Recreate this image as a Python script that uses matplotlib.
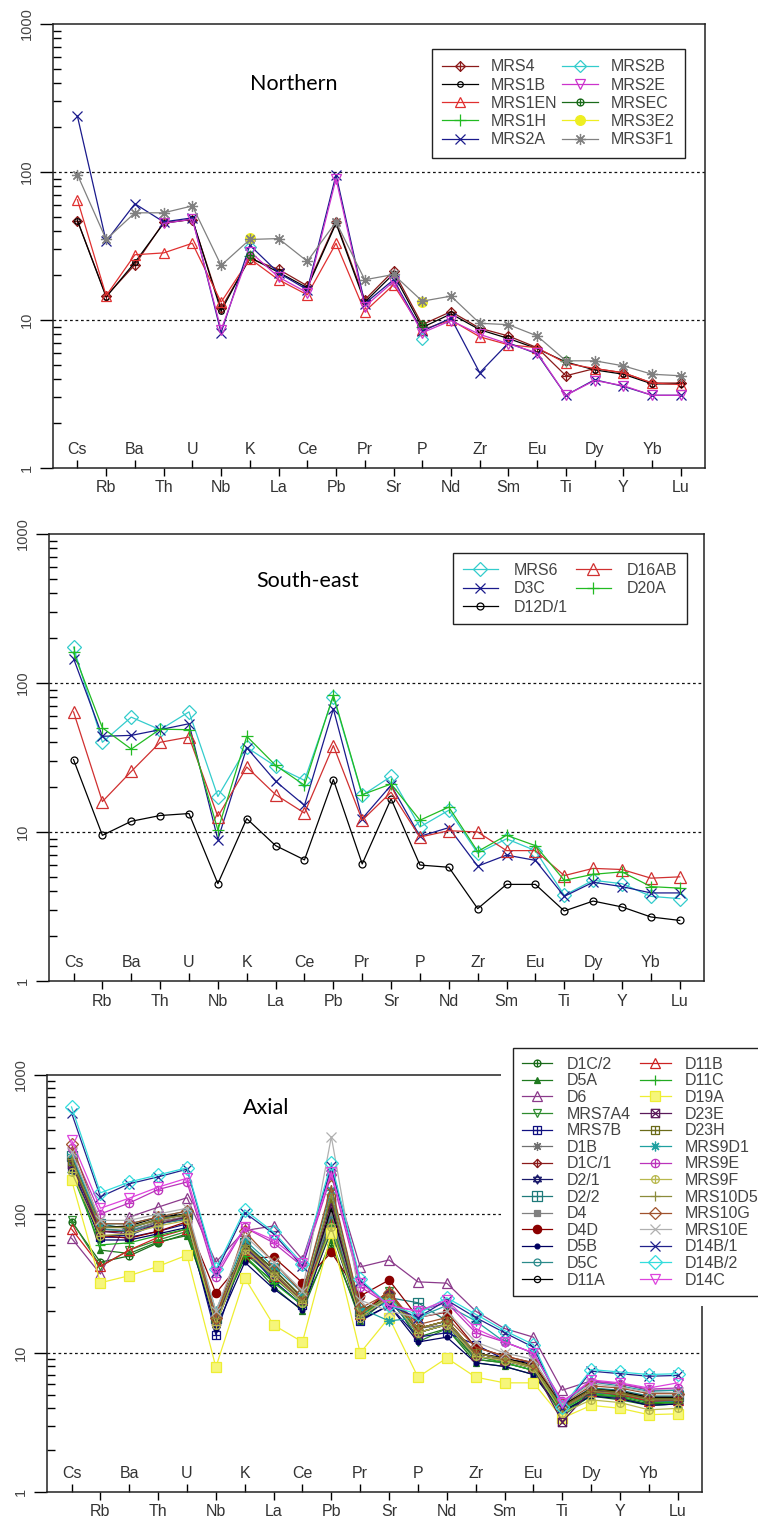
import numpy as np
import matplotlib.pyplot as plt
from matplotlib.path import Path
from matplotlib.patches import Rectangle
from matplotlib.ticker import FixedLocator, LogLocator, NullFormatter

plt.rcParams['font.family'] = ['Liberation Sans', 'DejaVu Sans']

nan = np.nan
elements = ["Cs", "Rb", "Ba", "Th", "U", "Nb", "K", "La", "Ce", "Pb", "Pr",
            "Sr", "P", "Nd", "Zr", "Sm", "Eu", "Ti", "Dy", "Y", "Yb", "Lu"]

# ---- Northern samples
north_names = ["MRS4", "MRS1B", "MRS1EN", "MRS1H", "MRS2A",
               "MRS2B", "MRS2E", "MRSEC", "MRS3E2", "MRS3F1"]
n_mrs4 = [47, 14.5, 23.6, 45.7, 47.6, 12.0, 26, 22, 17, 46, 13.7, 21.5, 9.3, 11.4, 8.8, 7.8, 6.5, 4.2, 4.7, 4.4, 3.75, 3.75]
n_mrs1b = [47, 14.3, 24.5, 45, 48, 11.5, 26.5, 21, 16.5, 45, 13.2, 20.5, 8.9, 11.0, 8.6, 7.5, 6.4, 5.2, 4.6, 4.3, 3.7, 3.7]
n_mrs1en = [65, 14.6, 27.6, 28.4, 33, 13.2, 26, 18.7, 14.8, 33, 11.4, 17.3, 8.6, 10.0, 7.7, 6.8, 6.5, 5.1, 4.7, 4.4, 3.75, 3.66]
n_mrs1h = [nan, nan, nan, nan, nan, nan, 27, nan, nan, nan, nan, nan, 9.0, nan, nan, nan, nan, 5.3, nan, nan, nan, nan]
n_mrs2a = [238, 34, 61, 46, 49, 8.2, 32, 20.8, 16, 96, 12.9, 18.7, 8.4, 10.3, 4.4, 7.0, 5.9, 3.1, 3.95, 3.56, 3.1, 3.1]
n_mrs2b = [nan, nan, nan, nan, nan, nan, 31, nan, nan, nan, nan, nan, 7.4, nan, nan, nan, nan, nan, nan, nan, nan, nan]
n_mrs2e = [nan, nan, nan, 45, 48, 8.6, 29, 19.5, 15.3, 90, 12.3, 18.2, 8.2, 9.9, 8.0, 6.9, 6.0, 3.1, 3.9, 3.6, 3.1, 3.1]
n_mrsec = [nan, nan, nan, nan, nan, nan, 27.5, nan, nan, nan, nan, nan, 9.4, nan, nan, nan, nan, 5.4, nan, nan, nan, nan]
n_mrs3e2 = [nan, nan, nan, nan, nan, nan, 36, nan, nan, nan, nan, nan, 13.3, nan, nan, nan, nan, nan, nan, nan, nan, nan]
n_mrs3f1 = [96, 35, 53, 53, 59, 23.4, 35, 35.5, 24.9, 46, 18.7, 20.3, 13.4, 14.5, 9.5, 9.3, 7.8, 5.3, 5.3, 4.9, 4.3, 4.2]

# ---- South-east samples
se_names = ["MRS6", "D3C", "D12D/1", "D16AB", "D20A"]
s_mrs6 = [174, 40, 59, 48.6, 64, 17.3, 37, 27.6, 22.2, 81, 17.6, 23.6, 10.8, 14, 7.2, 9.0, 7.5, 3.76, 4.74, 4.5, 3.7, 3.57]
s_d3c = [146, 43.9, 44.5, 48.6, 53.3, 8.9, 36.8, 21.9, 15.1, 67, 12.3, 20.6, 9.35, 10.7, 5.9, 7.0, 6.45, 3.7, 4.6, 4.3, 3.9, 3.9]
s_d12d1 = [30.6, 9.5, 11.8, 12.9, 13.3, 4.5, 12.3, 8.1, 6.5, 22.5, 6.1, 16.7, 6.0, 5.8, 3.06, 4.45, 4.45, 2.95, 3.44, 3.14, 2.69, 2.55]
s_d16ab = [64, 16, 25.5, 40, 43.4, 12.7, 27.3, 17.8, 13.4, 38, 12, 18.5, 9.25, 10.2, 10, 7.5, 7.5, 5.1, 5.7, 5.6, 4.9, 5.0]
s_d20a = [161, 50, 36, 49, 48.6, 10.3, 43.9, 28, 20.6, 83, 17.8, 21, 12, 14.7, 7.4, 9.5, 8.1, 4.74, 5.2, 5.4, 4.3, 4.2]

# ---- Axial samples
axial_names = ["D1C/2", "D5A", "D6", "MRS7A4", "MRS7B", "D1B", "D1C/1",
               "D2/1", "D2/2", "D4", "D4D", "D5B", "D5C", "D11A",
               "D11B", "D11C", "D19A", "D23E", "D23H", "MRS9D1", "MRS9E",
               "MRS9F", "MRS10D5", "MRS10G", "MRS10E", "D14B/1", "D14B/2", "D14C"]
a_d1c2 = [88, 45, 50, 62, 72, 17, 48, 33, 22, 60, 18, 27, 14, 16, 9, 8.5, 7.5, 3.8, 5.0, 4.8, 4.3, 4.4]
a_d5a = [230, 55, 52, 63, 70, 18, 50, 30, 20, 65, 17, 25, 13, 15, 8.5, 8, 7, 3.7, 4.9, 4.6, 4.2, 4.3]
a_d6 = [67, 37, 95, 112, 131, 45, 76, 82, 47, 207, 41.6, 46.7, 32.5, 31.8, 20, 15, 13, 5.4, 6.3, 6.0, 5.4, 5.4]
a_mrs7a4 = [90, 42, 55, 65, 75, 18, 52, 35, 23, 75, 19, 28, 12, 15, 9, 8.5, 7.5, 3.5, 5.0, 4.8, 4.2, 4.3]
a_mrs7b = [210, 68, 68, 75, 85, 13.5, 56, 33, 22, 90, 17, 22, 13, 14, 11.5, 9, 8.5, 4.0, 5.2, 5.0, 4.6, 4.6]
a_d1b = [250, 80, 80, 90, 100, 18, 60, 40, 25, 110, 20, 25, 15, 16, 10, 9, 8, 4.2, 5.6, 5.3, 4.8, 4.8]
a_d1c1 = [240, 75, 75, 88, 95, 17, 58, 38, 24, 105, 19, 27, 15, 17, 10, 9, 8, 4.1, 5.5, 5.2, 4.7, 4.7]
a_d21 = [220, 70, 70, 85, 92, 16, 55, 36, 23, 95, 18, 24, 14, 16, 9.5, 8.8, 7.8, 4.0, 5.3, 5.0, 4.5, 4.5]
a_d22 = [260, 85, 78, 92, 100, 18, 62, 40, 25, 100, 20, 25, 23, 17, 10, 9, 8, 4.2, 5.6, 5.4, 4.9, 4.9]
a_d4 = [230, 78, 76, 88, 96, 17, 58, 37, 23, 100, 19, 25, 14, 16, 9.5, 8.8, 7.8, 4.0, 5.3, 5.1, 4.6, 4.6]
a_d4d = [250, 70, 67, 75, 88, 27, 48, 49, 32, 53, 25.7, 33.5, 18, 19.7, 11, 9.5, 8.5, 4.2, 5.5, 5.2, 4.7, 4.8]
a_d5b = [210, 65, 65, 72, 80, 15, 45, 29, 20.4, 80, 17.3, 22, 12, 13, 8.5, 8, 7, 3.8, 4.9, 4.7, 4.2, 4.3]
a_d5c = [240, 78, 75, 85, 92, 17, 57, 37, 23, 90, 19, 24, 14, 16, 9.5, 8.8, 7.8, 4.0, 5.2, 5.0, 4.5, 4.5]
a_d11a = [250, 80, 82, 95, 100, 18, 60, 40, 25, 110, 20, 26, 15, 17, 10, 9.2, 8.2, 4.2, 5.5, 5.3, 4.8, 4.8]
a_d11b = [78, 42, 55, 68, 78, 19, 55, 36, 24, 85, 19, 28, 15, 17, 10, 9, 8, 4.0, 5.3, 5.0, 4.5, 4.6]
a_d11c = [200, 60, 62, 70, 78, 17, 50, 32, 22, 85, 18, 27, 14, 16, 9.5, 8.5, 7.5, 3.9, 5.1, 4.9, 4.4, 4.4]
a_d19a = [176, 32, 36, 42, 50.6, 7.9, 34.7, 15.9, 12, 73, 10, 18, 6.7, 9.2, 6.7, 6.1, 6.1, 3.4, 4.2, 4.0, 3.6, 3.65]
a_d23e = [230, 75, 72, 85, 95, 17, 58, 37, 24, 120, 19, 26, 14, 16, 9.5, 8.8, 7.8, 3.2, 5.4, 5.1, 4.6, 4.6]
a_d23h = [240, 80, 80, 92, 98, 18, 60, 40, 25, 130, 20, 25, 15, 17, 10, 9, 8, 4.1, 5.5, 5.2, 4.7, 4.7]
a_mrs9d1 = [270, 85, 85, 95, 105, 20, 65, 42, 27, 150, 21, 17, 18, 22, 17, 12, 10, 4.3, 6.2, 5.8, 5.3, 5.4]
a_mrs9e = [300, 100, 120, 150, 170, 35, 80, 62, 42, 190, 30, 22, 20, 23, 14, 12, 10, 4.5, 6.2, 6.0, 5.5, 5.6]
a_mrs9f = [200, 70, 72, 82, 90, 16, 55, 36, 23, 80, 18, 25, 14, 16, 9.5, 8.8, 7.8, 3.7, 4.6, 4.4, 3.9, 4.0]
a_mrs10d5 = [250, 80, 80, 90, 100, 18, 60, 38, 24, 140, 19, 26, 15, 17, 10, 9, 8, 4.0, 5.3, 5.1, 4.6, 4.6]
a_mrs10g = [320, 85, 85, 95, 105, 18, 75, 45, 27, 160, 21, 27, 16, 18, 11, 9.5, 8.5, 4.3, 5.8, 5.6, 5.1, 5.1]
a_mrs10e = [280, 90, 90, 100, 110, 20, 70, 45, 28, 360, 24, 20, 18, 20, 12, 10, 9, 4.3, 6.0, 5.7, 5.2, 5.2]
a_d14b1 = [534, 133, 165, 185, 210, 38, 102, 72, 42, 220, 33, 22, 18, 24, 18, 14, 11, 4.0, 7.4, 7.1, 6.8, 6.9]
a_d14b2 = [589, 142, 170, 191, 215, 40, 107, 74, 44, 234, 34, 22, 19, 25, 19, 14.5, 11.5, 4.1, 7.6, 7.3, 7.0, 7.1]
a_d14c = [340, 110, 130, 156, 181, 37.6, 80, 65, 44.5, 200, 32, 22, 20, 24, 15, 12, 10, 4.4, 6.4, 6.1, 5.6, 6.1]

# ---- marker shapes (R-style symbols)
def seg(pts):
    codes = []
    for i in range(len(pts)):
        codes.append(Path.MOVETO if i % 2 == 0 else Path.LINETO)
    return Path(pts, codes)

plus_p = seg([[-1, 0], [1, 0], [0, -1], [0, 1]])
diamond_p = Path([[0, 1], [1, 0], [0, -1], [-1, 0], [0, 1]], closed=True)
square_p = Path([[-0.8, -0.8], [0.8, -0.8], [0.8, 0.8], [-0.8, 0.8], [-0.8, -0.8]], closed=True)
tri_up = Path([[0, 1], [0.87, -0.5], [-0.87, -0.5], [0, 1]], closed=True)
tri_dn = Path([[0, -1], [0.87, 0.5], [-0.87, 0.5], [0, -1]], closed=True)
diamond_plus = Path.make_compound_path(diamond_p, plus_p)
circle_plus = Path.make_compound_path(Path.circle((0, 0), 1), plus_p)
square_plus = Path.make_compound_path(square_p, seg([[-0.8, 0], [0.8, 0], [0, -0.8], [0, 0.8]]))
square_x = Path.make_compound_path(square_p, seg([[-0.8, -0.8], [0.8, 0.8], [-0.8, 0.8], [0.8, -0.8]]))
star_david = Path.make_compound_path(tri_up, tri_dn)
aster = (8, 2, 0)

# (color, marker, size, face)
north_style = [
    ("#8b1a1a", diamond_plus, 7, "none"),
    ("#000000", "o", 4, "none"),
    ("#e03030", "^", 7.5, "none"),
    ("#22bb22", "+", 8, "none"),
    ("#1a1a8c", "x", 6.5, "none"),
    ("#33cccc", "D", 6, "none"),
    ("#cc33cc", "v", 7, "none"),
    ("#1a6b1a", circle_plus, 5, "none"),
    ("#eeee22", "o", 7, "#eeee22"),
    ("#808080", aster, 8, "none"),
]
se_style = [
    ("#33cccc", "D", 7, "none"),
    ("#1a1a8c", "x", 7, "none"),
    ("#000000", "o", 5, "none"),
    ("#d03030", "^", 8, "none"),
    ("#22bb22", "+", 9, "none"),
]
axial_style = [
    ("#1a6b1a", circle_plus, 5, "none"),
    ("#1f7a1f", "^", 5, "#1f7a1f"),
    ("#8b3a8b", "^", 7.5, "none"),
    ("#2e8b2e", "v", 6, "none"),
    ("#101080", square_plus, 6, "none"),
    ("#707070", aster, 6.5, "none"),
    ("#8b1a1a", diamond_plus, 6, "none"),
    ("#1a1a6b", star_david, 6.5, "none"),
    ("#1f7a7a", square_plus, 6.5, "none"),
    ("#808080", "s", 4.5, "#808080"),
    ("#8b0000", "o", 6, "#8b0000"),
    ("#000060", "o", 3.5, "#000060"),
    ("#2a8a8a", "o", 5, "none"),
    ("#000000", "o", 4.5, "none"),
    ("#cc2222", "^", 7, "none"),
    ("#22aa22", "+", 7, "none"),
    ("#eeee33", "s", 7, "#f6f67a"),
    ("#5a1a5a", square_x, 6, "none"),
    ("#6b6b1a", square_plus, 6, "none"),
    ("#1fa0a0", aster, 7, "none"),
    ("#bb33bb", circle_plus, 6, "none"),
    ("#b8b84d", circle_plus, 5.5, "none"),
    ("#8b8b3a", "+", 7, "none"),
    ("#a0522d", "D", 6, "none"),
    ("#b0b0b0", "x", 7, "none"),
    ("#22228b", "x", 7, "none"),
    ("#33dddd", "D", 7.5, "none"),
    ("#dd44dd", "v", 7.5, "none"),
]

north_data = [n_mrs4, n_mrs1b, n_mrs1en, n_mrs1h, n_mrs2a,
              n_mrs2b, n_mrs2e, n_mrsec, n_mrs3e2, n_mrs3f1]
se_data = [s_mrs6, s_d3c, s_d12d1, s_d16ab, s_d20a]
axial_data = [a_d1c2, a_d5a, a_d6, a_mrs7a4, a_mrs7b, a_d1b, a_d1c1, a_d21,
              a_d22, a_d4, a_d4d, a_d5b, a_d5c, a_d11a, a_d11b, a_d11c, a_d19a,
              a_d23e, a_d23h, a_mrs9d1, a_mrs9e, a_mrs9f, a_mrs10d5, a_mrs10g,
              a_mrs10e, a_d14b1, a_d14b2, a_d14c]

W, H = 758, 1522
fig = plt.figure(figsize=(W / 100, H / 100), dpi=100)
xpos = np.arange(len(elements))


def place(l, t, r, b):
    return fig.add_axes([l / W, 1 - b / H, (r - l) / W, (b - t) / H])


def setup(ax, title, tx, ty):
    ax.set_yscale("log")
    ax.set_ylim(1, 1000)
    ax.set_xlim(-0.85, 21.84)
    for v in (10, 100):
        ax.axhline(v, color="#111111", ls=(0, (2.2, 2.2)), lw=0.9, zorder=1)
    ax.yaxis.set_major_locator(FixedLocator([1, 10, 100, 1000]))
    ax.set_yticklabels(["1", "10", "100", "1000"], rotation=90, va="center")
    ax.yaxis.set_minor_locator(LogLocator(base=10, subs=np.arange(2, 10)))
    ax.yaxis.set_minor_formatter(NullFormatter())
    ax.tick_params(axis="y", which="major", direction="out", length=9.5, width=1,
                   pad=4, labelsize=10.5, labelcolor="#444444")
    ax.tick_params(axis="y", which="minor", direction="in", length=6, width=1)
    ax.set_xticks(xpos[1::2])
    ax.set_xticklabels(elements[1::2])
    ax.set_xticks(xpos[0::2], minor=True)
    ax.set_xticklabels(elements[0::2], minor=True)
    ax.tick_params(axis="x", which="major", direction="out", length=6, width=1,
                   pad=3, labelsize=11.5, labelcolor="#333333")
    ax.tick_params(axis="x", which="minor", direction="in", length=6, width=1,
                   pad=-19, labelsize=11.5, labelcolor="#333333")
    for s in ax.spines.values():
        s.set_linewidth(1.1)
        s.set_color("#222222")
    ax.text(tx, ty, title, transform=ax.transAxes, ha="center", va="center",
            fontsize=15.5, family=["Lato", "DejaVu Sans"])


def draw(ax, data, styles):
    handles = []
    for vals, (c, m, ms, fc) in zip(data, styles):
        ln, = ax.plot(xpos, vals, color=c, lw=0.9, marker=m, ms=ms, mfc=fc,
                      mec=c, mew=0.9, zorder=3)
        handles.append(ln)
    return handles


ax1 = place(53, 24, 705, 468)
setup(ax1, "Northern", 0.37, 0.865)
h1 = draw(ax1, north_data, north_style)
fig.legend(h1, north_names, loc="upper left", bbox_to_anchor=(432 / W, 1 - 49 / H),
           ncol=2, fontsize=11.5, labelspacing=0.2, handlelength=2.2,
           handletextpad=0.8, columnspacing=0.35, borderpad=0.65, borderaxespad=0,
           fancybox=False, framealpha=1, edgecolor="#222222", labelcolor="#444444")

ax2 = place(49, 534, 704, 981)
setup(ax2, "South-east", 0.395, 0.895)
h2 = draw(ax2, se_data, se_style)
fig.legend(h2, se_names, loc="upper left", bbox_to_anchor=(453 / W, 1 - 553 / H),
           ncol=2, fontsize=11.5, labelspacing=0.22, handlelength=2.2,
           handletextpad=1.0, columnspacing=0.5, borderpad=0.6, borderaxespad=0,
           fancybox=False, framealpha=1, edgecolor="#222222", labelcolor="#444444")

ax3 = place(47, 1075, 702, 1492)
setup(ax3, "Axial", 0.334, 0.921)
h3 = draw(ax3, axial_data, axial_style)
fig.patches.append(Rectangle((501 / W, 1 - 1306 / H), (W - 501) / W, (1306 - 1040) / H,
                             transform=fig.transFigure, facecolor="white",
                             edgecolor="none", zorder=4))
fig.legend(h3, axial_names, loc="upper left", bbox_to_anchor=(513 / W, 1 - 1048 / H),
           ncol=2, fontsize=11.5, labelspacing=0.1, handlelength=1.9,
           handletextpad=0.9, columnspacing=0.6, borderpad=0.55, borderaxespad=0,
           fancybox=False, framealpha=1, edgecolor="#222222", labelcolor="#444444")

fig.savefig("out.png", dpi=100)
